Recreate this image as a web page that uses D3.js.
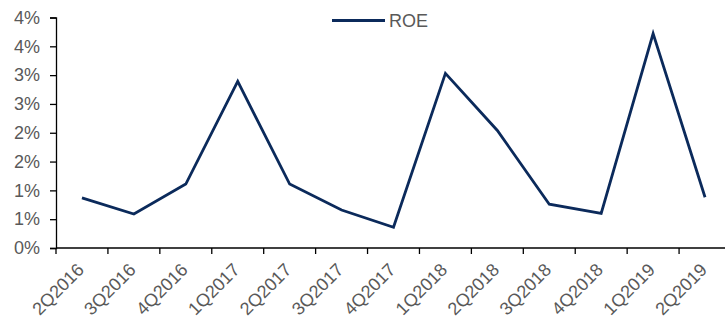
<!DOCTYPE html>
<html>
<head>
<meta charset="utf-8">
<script src="https://cdn.jsdelivr.net/npm/d3@7"></script>
<style>
  html, body { margin: 0; padding: 0; background: #fff; }
  svg { display: block; }
  text { font-family: "Liberation Sans", Arial, sans-serif; }
</style>
</head>
<body>
<svg id="chart" width="725" height="320"></svg>
<script>
// Quarterly return on equity (%)
const quarters = ["2Q2016", "3Q2016", "4Q2016", "1Q2017", "2Q2017", "3Q2017", "4Q2017",
                  "1Q2018", "2Q2018", "3Q2018", "4Q2018", "1Q2019", "2Q2019"];
const roe = [0.87, 0.59, 1.11, 2.89, 1.11, 0.66, 0.36, 3.03, 2.04, 0.76, 0.60, 3.72, 0.88];
const yTicks = [0, 0.5, 1, 1.5, 2, 2.5, 3, 3.5, 4];
const seriesName = "ROE";

const svg = d3.select("#chart");
const plot = { left: 56, right: 731, top: 17.5, bottom: 248 };
const lineColor = "#0b2a5b";
const textColor = "#595959";
const fontSize = "18px";

const x = d3.scaleBand().domain(quarters).range([plot.left, plot.right]);
const y = d3.scaleLinear().domain([0, 4]).range([plot.bottom, plot.top]);

// Y axis
const yAxis = svg.append("g")
  .attr("transform", `translate(${plot.left},0)`)
  .call(d3.axisLeft(y).tickValues(yTicks).tickSize(6).tickPadding(10)
    .tickFormat(d => Math.round(d + 1e-9) + "%"));
yAxis.select(".domain").attr("stroke", "#000").attr("stroke-width", 1.3);
yAxis.selectAll(".tick line").attr("stroke", "#000").attr("stroke-width", 1.3);
yAxis.selectAll("text").attr("fill", textColor).style("font-size", fontSize);

// X axis: ticks at band boundaries, labels at band centres
const xAxis = svg.append("g").attr("transform", `translate(0,${plot.bottom})`);
xAxis.append("line")
  .attr("x1", plot.left).attr("x2", plot.right).attr("y1", 0).attr("y2", 0)
  .attr("stroke", "#000").attr("stroke-width", 1.3);
xAxis.selectAll("line.tk")
  .data(quarters)
  .join("line")
  .attr("class", "tk")
  .attr("x1", d => x(d)).attr("x2", d => x(d))
  .attr("y1", 0).attr("y2", 6)
  .attr("stroke", "#000").attr("stroke-width", 1.3);
xAxis.selectAll("text")
  .data(quarters)
  .join("text")
  .attr("transform", d => `translate(${x(d) + x.bandwidth() / 2 + 3},${23}) rotate(-45)`)
  .attr("text-anchor", "end")
  .attr("fill", textColor)
  .style("font-size", fontSize)
  .text(d => d);

// ROE line
const line = d3.line()
  .x((d, i) => x(quarters[i]) + x.bandwidth() / 2)
  .y(d => y(d));
svg.append("path")
  .datum(roe)
  .attr("d", line)
  .attr("fill", "none")
  .attr("stroke", lineColor)
  .attr("stroke-width", 2.8)
  .attr("stroke-linejoin", "miter");

// Legend
const lg = svg.append("g").attr("transform", "translate(332,20.5)");
lg.append("line").attr("x1", 0).attr("x2", 53).attr("y1", 0).attr("y2", 0)
  .attr("stroke", lineColor).attr("stroke-width", 2.8);
lg.append("text").attr("x", 57).attr("y", 0).attr("dy", "0.35em")
  .attr("fill", textColor).style("font-size", fontSize).text(seriesName);
</script>
</body>
</html>
